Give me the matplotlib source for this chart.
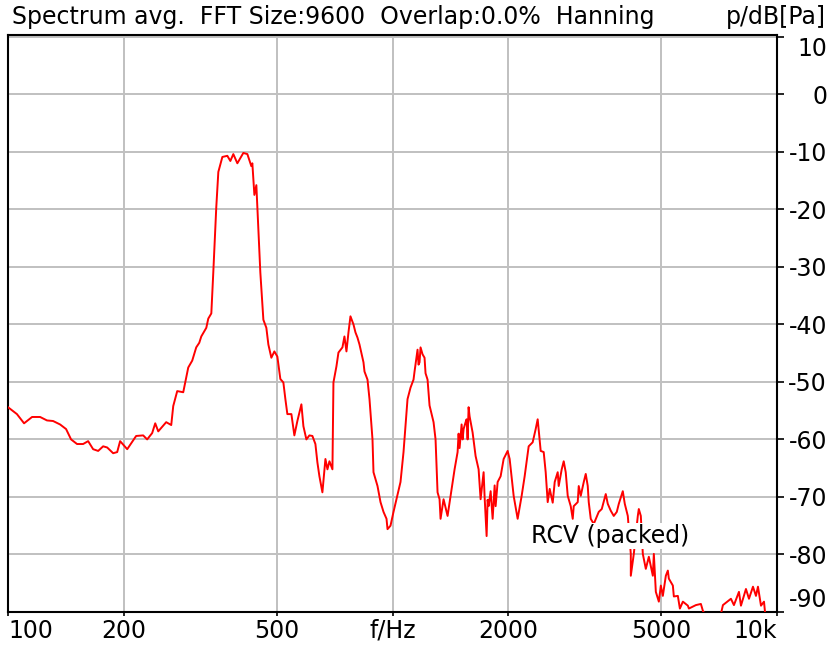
import matplotlib
matplotlib.use('Agg')
import matplotlib.pyplot as plt
import numpy as np

plt.rcParams['font.family'] = ['DejaVu Sans']
plt.rcParams['axes.unicode_minus'] = False

# spectrum (Hz, dB)
freq = [100, 105.5, 110.1, 115.5, 121.2, 126.3, 131.0, 136.6, 141.6, 145.9,
        151.2, 156.8, 161.6, 166.5, 171.6, 176.8, 181.1, 187.7, 192.3, 195.7,
        204.2, 215.4, 224.7, 230.1, 237.1, 241.5, 245.9, 257.9, 265.8, 269.0,
        275.5, 285.6, 294.3, 301.4, 308.7, 314.4, 318.2, 327.9, 331.8, 337.9,
        341.9, 348.1, 352.4, 361.0, 371.9, 378.7, 385.5, 394.9, 409.3, 419.3,
        429.4, 432.0, 437.3, 442.5, 445.2, 453.2, 461.5, 469.8, 475.5, 484.1,
        492.9, 501.8, 510.9, 520.2, 526.5, 532.8, 545.8, 555.6, 565.7, 579.5,
        586.5, 597.1, 608.0, 619.0, 630.2, 637.8, 645.5, 657.2, 669.2, 677.3,
        685.5, 697.9, 702.1, 714.8, 723.5, 741.0, 749.9, 759.0, 768.2, 777.4,
        791.5, 801.1, 810.8, 820.6, 840.5, 845.6, 860.9, 871.3, 887.1, 892.4,
        914.1, 930.7, 947.6, 964.8, 970.6, 988.1, 1006.0, 1024.3, 1049.1, 1068.2,
        1081.1, 1094.1, 1114.0, 1134.2, 1141.1, 1161.8, 1168.8, 1175.8, 1182.9, 1197.1,
        1211.5, 1218.8, 1233.5, 1248.4, 1278.7, 1294.1, 1309.7, 1325.5, 1333.5, 1357.7,
        1390.7, 1415.9, 1450.3, 1476.7, 1485.6, 1494.5, 1512.6, 1521.6, 1530.8, 1549.3,
        1558.6, 1568.0, 1577.4, 1586.9, 1615.6, 1644.9, 1674.7, 1694.9, 1725.7, 1736.1,
        1757.0, 1767.6, 1778.3, 1799.8, 1821.5, 1843.5, 1854.5, 1876.9, 1910.9, 1945.6,
        1992.8, 2016.9, 2065.8, 2115.9, 2167.3, 2206.6, 2260.2, 2315.0, 2357.1, 2385.5,
        2428.9, 2473.0, 2502.7, 2533.0, 2563.6, 2610.2, 2641.6, 2689.5, 2705.6, 2754.7,
        2788.0, 2821.7, 2855.8, 2907.5, 2942.6, 2960.4, 3032.2, 3050.4, 3087.5, 3143.6,
        3181.1, 3219.5, 3238.8, 3278.0, 3337.3, 3438.8, 3501.2, 3586.2, 3629.9, 3695.5,
        3762.4, 3831.1, 3877.4, 3971.3, 4019.2, 4092.2, 4166.5, 4166.6, 4242.0, 4345.0,
        4371.1, 4424.0, 4477.3, 4558.4, 4641.6, 4754.2, 4782.8, 4840.4, 4928.2, 4987.6,
        5047.7, 5139.3, 5201.2, 5232.6, 5359.6, 5391.5, 5522.3, 5589.9, 5691.3, 5864.3,
        5899.4, 6152.2, 6339.4, 6416.0, 6731.0, 7000.0, 7233.6, 7589.0, 7726.8, 7962.3,
        8058.4, 8303.3, 8454.6, 8659.6, 8816.5, 8922.5, 9085.8, 9250.9, 9400.0]
level = [-54.4, -55.6, -57.2, -56.1, -56.1, -56.7, -56.8, -57.4, -58.2, -60.0,
         -60.8, -60.8, -60.3, -61.7, -62.0, -61.2, -61.4, -62.4, -62.2, -60.3,
         -61.7, -59.4, -59.3, -60.0, -58.9, -57.2, -58.6, -57.0, -57.5, -54.2,
         -51.6, -51.8, -47.5, -46.3, -44.0, -43.2, -42.1, -40.6, -39.0, -38.1,
         -31.0, -19.6, -13.5, -10.9, -10.7, -11.6, -10.4, -12.0, -10.2, -10.4,
         -12.5, -12.0, -17.5, -15.8, -19.6, -31.0, -39.2, -40.6, -43.5, -45.8,
         -44.7, -45.6, -49.5, -50.1, -53.0, -55.6, -55.6, -59.3, -56.8, -53.9,
         -57.7, -60.0, -59.3, -59.4, -60.8, -64.0, -66.4, -69.2, -63.4, -65.2,
         -63.8, -65.2, -50.1, -47.3, -44.9, -44.0, -42.1, -44.7, -41.4, -38.6,
         -40.0, -41.4, -42.3, -43.5, -46.6, -48.2, -49.6, -53.0, -60.0, -65.7,
         -68.1, -70.9, -72.6, -73.8, -75.6, -75.0, -72.6, -70.4, -67.4, -62.2,
         -57.7, -53.0, -51.0, -49.6, -48.2, -44.4, -47.0, -46.6, -44.0, -45.2,
         -45.8, -48.5, -49.6, -54.1, -57.0, -60.0, -69.2, -70.4, -73.8, -70.4,
         -73.3, -69.8, -65.2, -62.2, -59.0, -61.5, -57.4, -60.0, -58.2, -57.0,
         -56.5, -60.0, -54.4, -56.0, -58.8, -62.9, -65.2, -70.4, -65.7, -70.0,
         -76.8, -70.5, -71.6, -69.0, -73.8, -68.0, -71.6, -67.4, -66.4, -63.4,
         -62.0, -63.4, -69.8, -73.8, -69.8, -66.4, -61.2, -60.5, -58.2, -56.5,
         -62.0, -62.2, -65.7, -70.9, -68.6, -71.0, -67.4, -65.7, -68.1, -65.2,
         -63.8, -65.7, -69.8, -71.6, -73.8, -71.6, -70.9, -68.1, -69.8, -67.4,
         -66.0, -68.1, -70.9, -73.8, -74.7, -72.6, -72.1, -69.5, -71.2, -72.4,
         -73.3, -72.6, -71.2, -69.0, -71.2, -73.3, -79.9, -83.7, -79.9, -73.3,
         -72.1, -73.3, -79.9, -82.5, -80.4, -83.7, -79.9, -86.5, -88.2, -85.4,
         -87.2, -83.7, -82.8, -84.2, -85.4, -87.3, -87.2, -89.4, -88.2, -88.9,
         -89.4, -88.8, -88.6, -89.8, -92.0, -93.0, -88.8, -87.7, -88.8, -86.5,
         -88.9, -86.0, -87.7, -85.6, -87.2, -85.6, -88.9, -88.2, -93.0]

xticks = [100, 200, 500, 1000, 2000, 5000, 10000]
xlabels = ['100', '200', '500', 'f/Hz', '2000', '5000', '10k']
yticks = [10, 0, -10, -20, -30, -40, -50, -60, -70, -80, -90]

fig = plt.figure(figsize=(8.31, 6.47), dpi=100)
ax = fig.add_axes([8/831, 1-612/647, 769/831, 577/647])
ax.plot(freq, level, color='red', lw=1.4, zorder=3)
ax.set_xscale('log')
ax.set_xlim(100, 10000)
ax.set_ylim(-90, 10.3)

ax.set_xticks(xticks)
ax.set_xticklabels(xlabels)
ax.xaxis.set_minor_locator(matplotlib.ticker.NullLocator())
ax.set_yticks(yticks)
ax.yaxis.tick_right()
ax.tick_params(axis='both', labelsize=17, colors='black', width=1.2)
ax.tick_params(axis='x', length=3, pad=2)
ax.tick_params(axis='y', length=5, pad=31)
for lab in ax.get_yticklabels():
    lab.set_horizontalalignment('right')
ylabs = ax.get_yticklabels()
ylabs[0].set_verticalalignment('top')
ylabs[-1].set_verticalalignment('bottom')
xlabs = ax.get_xticklabels()
xlabs[0].set_horizontalalignment('left')
xlabs[-1].set_horizontalalignment('right')

ax.grid(True, color='#c0c0c0', lw=1.4)
for s in ax.spines.values():
    s.set_linewidth(1.5)

ax.text(2287, -76.8, 'RCV (packed)', fontsize=17, ha='left', va='center', zorder=5,
        bbox=dict(facecolor='white', edgecolor='none', pad=1))

fig.text(12/831, 1-17/647, 'Spectrum avg.  FFT Size:9600  Overlap:0.0%  Hanning',
         fontsize=17, ha='left', va='center')
fig.text(826/831, 1-17/647, 'p/dB[Pa]', fontsize=17, ha='right', va='center')

fig.savefig('out.png', dpi=100)
